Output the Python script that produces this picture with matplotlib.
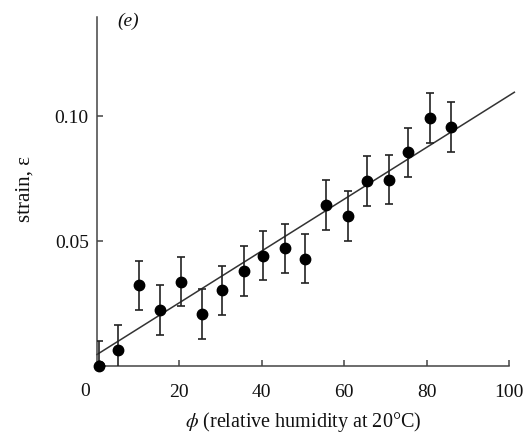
import numpy as np
import matplotlib
matplotlib.use("Agg")
import matplotlib.pyplot as plt
import matplotlib.transforms as mtransforms

plt.rcParams['font.family'] = ['Liberation Serif', 'DejaVu Serif']
plt.rcParams['mathtext.fontset'] = 'stix'

phi = [0.5, 5.2, 10.3, 15.3, 20.4, 25.5, 30.4, 35.8, 40.4, 45.6,
       50.5, 55.7, 60.9, 65.6, 70.9, 75.6, 80.8, 86.0]
strain = [0.0, 0.0065, 0.0324, 0.0225, 0.0337, 0.021, 0.0304, 0.0381, 0.0441, 0.0471,
          0.043, 0.0644, 0.0601, 0.074, 0.0745, 0.0855, 0.0992, 0.0956]
strain_err = [0.010, 0.010, 0.0098, 0.010, 0.0098, 0.0100, 0.0098, 0.010, 0.0098, 0.0098,
              0.0098, 0.0099, 0.010, 0.0099, 0.0098, 0.0099, 0.0101, 0.0100]

# fitted straight line endpoints
fit_phi = [0, 101.3]
fit_strain = [0.0046, 0.1095]

xticks = [20, 40, 60, 80, 100]
yticks = [0.05, 0.10]

fig = plt.figure(figsize=(5.28, 4.35), dpi=100)
ax = fig.add_axes([97/528, 1 - 367/435, (509 - 97)/528, (367 - 18)/435])

ax.plot(fit_phi, fit_strain, color='#333333', lw=1.1, clip_on=False, zorder=2)
ax.errorbar(phi, strain, yerr=strain_err, fmt='o', color='black', ms=7.5,
            ecolor='#222222', elinewidth=1.2, capsize=3, capthick=1.2, zorder=3,
            clip_on=True)
# first point sits on the axis corner, draw it unclipped
ax.plot(phi[:1], strain[:1], 'o', color='black', ms=7.5, clip_on=False, zorder=4)

ax.set_xlim(0, 100)
ax.set_ylim(0, 0.1396)
ax.set_xticks(xticks)
ax.set_yticks(yticks)
ax.set_yticklabels(['0.05', '0.10'])

for s in ['top', 'right']:
    ax.spines[s].set_visible(False)
for s in ['left', 'bottom']:
    ax.spines[s].set_color('#444444')
    ax.spines[s].set_linewidth(1.1)

ax.tick_params(direction='in', length=4, width=1.1, color='#444444',
               labelsize=14, labelcolor='#111111')
ax.tick_params(axis='x', pad=12)
ax.tick_params(axis='y', pad=6)

trans = mtransforms.blended_transform_factory(ax.transData, ax.transAxes)
ax.text(-3, -0.045, '0', transform=trans, ha='center', va='top',
        fontsize=14, color='#111111')

ax.set_xlabel(r'$\phi$ (relative humidity at 20°C)', fontsize=14.5, color='#111111', labelpad=7)
fig.text(25/528, 1 - 189/435, 'strain, ε', rotation=90, ha='center', va='center',
         fontsize=15, color='#111111')
fig.text(128/528, 1 - 21/435, '(e)', style='italic', ha='center', va='center',
         fontsize=14, color='#111111')

fig.savefig('out.png', dpi=100)
